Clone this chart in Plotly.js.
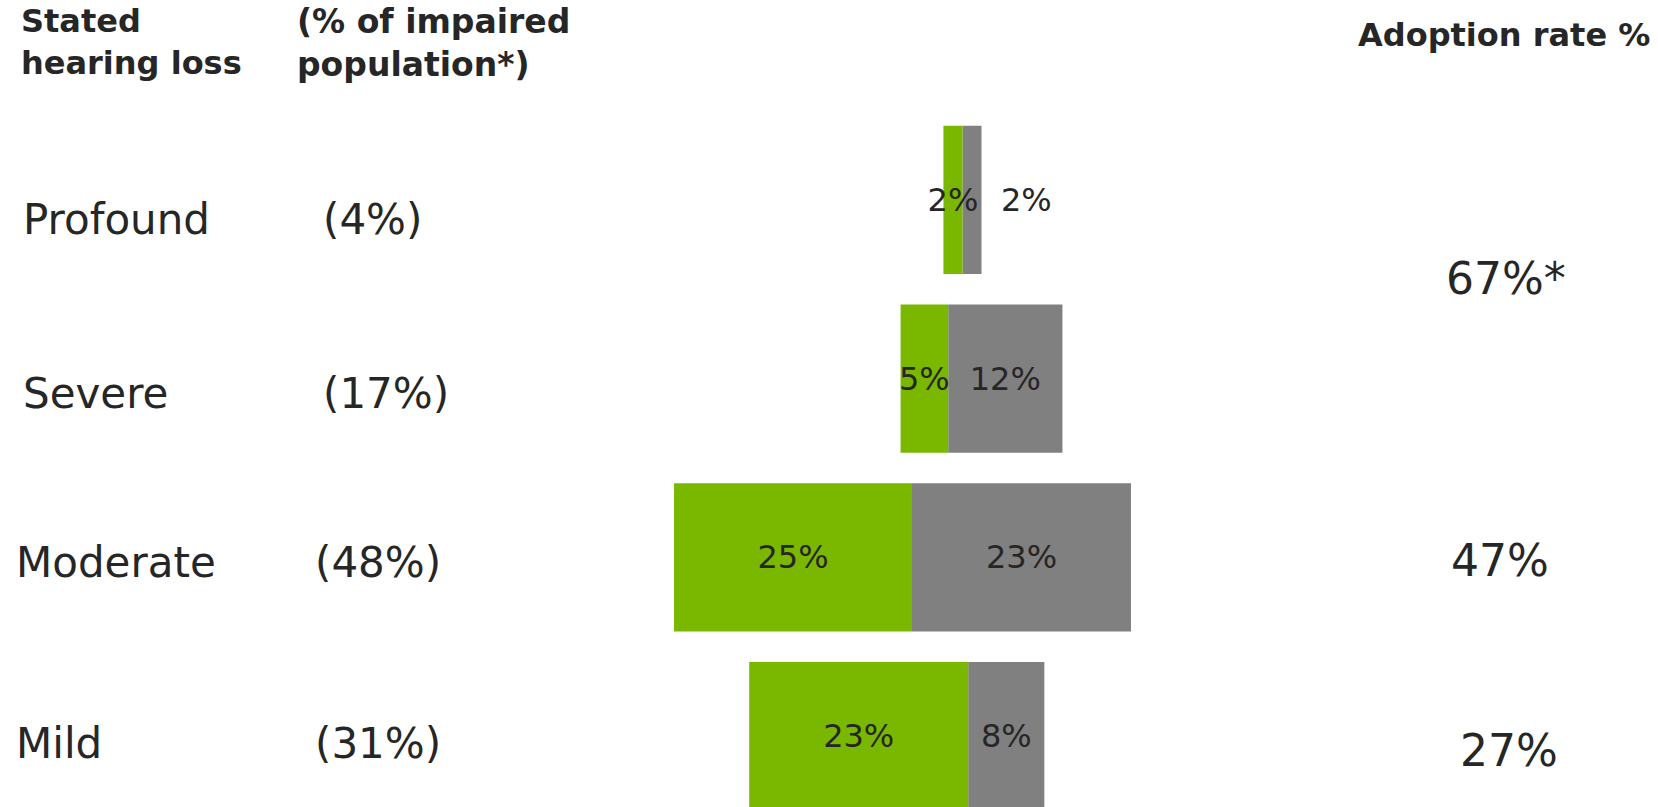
<!DOCTYPE html>
<html>
<head>
<meta charset="utf-8">
<script src="https://cdn.plot.ly/plotly-3.0.1.min.js"></script>
<style>
  html, body { margin: 0; padding: 0; background: #ffffff; overflow: hidden; }
  #chart { width: 1658px; height: 807px; }
</style>
</head>
<body>
<div id="chart"></div>
<script>
// ---- data ----
const categories = ['Profound', 'Severe', 'Moderate', 'Mild'];
const populationShare = [4, 17, 48, 31];          // % of impaired population
const greenValues = [2, 5, 25, 23];               // green segment (%)
const grayValues = [2, 12, 23, 8];                // grey segment (%)
const barStart = [28.3, 23.8, 0, 7.9];            // where each row's green segment begins on the % axis
const adoptionLabels = ['67%*', '47%', '27%'];    // adoption rate %
const adoptionRows = [0.5, 2, 3];                 // row each adoption figure belongs to (Profound+Severe, Moderate, Mild)

// ---- styles / layout constants ----
const GREEN = '#7ab800';
const GREY = '#808080';
const TXT = '#262626';
const FONT = 'DejaVu Sans, Verdana, sans-serif';
const W = 1658, H = 807;

const pct = v => v + '%';
const grayBase = barStart.map((b, i) => b + greenValues[i]);
const grayEnd = grayBase.map((b, i) => b + grayValues[i]);

const greenTrace = {
  type: 'bar', orientation: 'h',
  y: categories, x: greenValues, base: barStart,
  width: 0.83,
  marker: { color: GREEN, line: { width: 0 } },
  text: greenValues.map(pct),
  textposition: 'inside', insidetextanchor: 'middle',
  textangle: 0,
  constraintext: 'none',
  insidetextfont: { family: FONT, size: 32, color: TXT },
  hoverinfo: 'skip', showlegend: false
};

// the profound grey bar is too thin for its label: it sits beside the bar (annotation)
const grayTrace = {
  type: 'bar', orientation: 'h',
  y: categories, x: grayValues, base: grayBase,
  width: 0.83,
  marker: { color: GREY, line: { width: 0 } },
  text: grayValues.map((v, i) => i === 0 ? '' : pct(v)),
  textposition: 'inside', insidetextanchor: 'middle',
  textangle: 0,
  constraintext: 'none',
  insidetextfont: { family: FONT, size: 32, color: TXT },
  hoverinfo: 'skip', showlegend: false
};

const annotations = [];
const labelFont = { family: FONT, size: 42, color: TXT };
const nameX = [21, 21, 14, 14];
const shareX = [321, 321, 313, 313];
const rowShift = [-20, -15, -5, -7];

categories.forEach((c, i) => {
  annotations.push({
    xref: 'paper', yref: 'y', x: nameX[i] / W, y: i,
    xanchor: 'left', yanchor: 'middle', yshift: rowShift[i],
    text: c, showarrow: false, font: labelFont
  });
  annotations.push({
    xref: 'paper', yref: 'y', x: shareX[i] / W, y: i,
    xanchor: 'left', yanchor: 'middle', yshift: rowShift[i],
    text: '(' + pct(populationShare[i]) + ')', showarrow: false, font: labelFont
  });
});

// profound grey label beside its bar
annotations.push({
  xref: 'x', yref: 'y', x: grayEnd[0], y: 0,
  xanchor: 'left', yanchor: 'middle', xshift: 17,
  text: pct(grayValues[0]), showarrow: false,
  font: { family: FONT, size: 32, color: TXT }
});

// adoption rates
const adoptX = [1506, 1500, 1509];
const adoptShift = [11, -3, -14];
adoptionLabels.forEach((t, i) => {
  annotations.push({
    xref: 'paper', yref: 'y', x: adoptX[i] / W, y: adoptionRows[i],
    xanchor: 'center', yanchor: 'middle', yshift: adoptShift[i],
    text: t, showarrow: false, font: { family: FONT, size: 44, color: TXT }
  });
});

// headers
const headFont = { family: FONT, size: 32, color: TXT, weight: 'bold' };
annotations.push({
  xref: 'paper', yref: 'paper', x: 19 / W, y: 1, xanchor: 'left', yanchor: 'top', yshift: 0,
  align: 'left', text: '<b>Stated<br>hearing loss</b>', showarrow: false, font: headFont
});
annotations.push({
  xref: 'paper', yref: 'paper', x: 295 / W, y: 1, xanchor: 'left', yanchor: 'top', yshift: 0,
  align: 'left', text: '<b>(% of impaired<br>population*)</b>', showarrow: false,
  font: Object.assign({}, headFont, { size: 33 })
});
annotations.push({
  xref: 'paper', yref: 'paper', x: 1356 / W, y: 1, xanchor: 'left', yanchor: 'top', yshift: -14,
  align: 'left', text: '<b>Adoption rate %</b>', showarrow: false, font: headFont
});

const layout = {
  width: W, height: H,
  margin: { l: 0, r: 0, t: 0, b: 0, pad: 0 },
  paper_bgcolor: '#ffffff', plot_bgcolor: '#ffffff',
  barmode: 'overlay',
  xaxis: { range: [-70.8, 103.36], visible: false, fixedrange: true },
  yaxis: { type: 'category', categoryorder: 'array', categoryarray: categories,
           range: [3.397, -1.119], visible: false, fixedrange: true },
  annotations: annotations,
  font: { family: FONT, color: TXT },
  showlegend: false
};

// grey drawn first so the green labels that spill over stay visible on top
Plotly.newPlot('chart', [grayTrace, greenTrace], layout, { staticPlot: true, displayModeBar: false });
</script>
</body>
</html>
